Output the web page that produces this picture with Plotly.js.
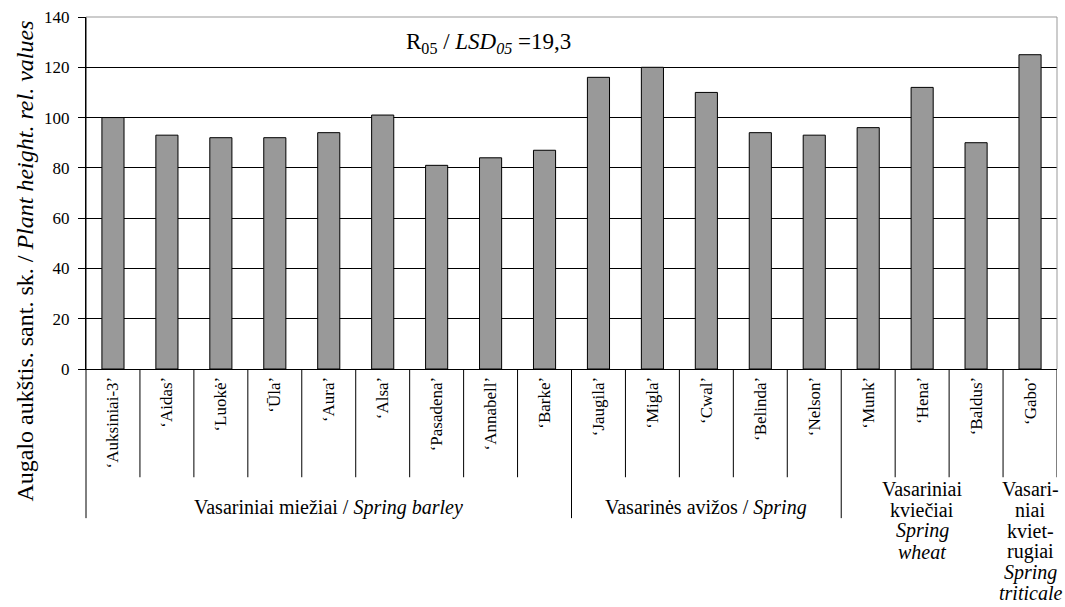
<!DOCTYPE html>
<html>
<head>
<meta charset="utf-8">
<script src="https://cdn.plot.ly/plotly-3.0.1.min.js"></script>
<style>html,body{margin:0;padding:0;background:#fff;}#chart{width:1065px;height:607px;}</style>
</head>
<body>
<div id="chart"></div>
<script>
const categories = ['\u2018Auksiniai-3\u2019','\u2018Aidas\u2019','\u2018Luok\u0117\u2019','\u2018\u016Ala\u2019','\u2018Aura\u2019','\u2018Alsa\u2019','\u2018Pasadena\u2019','\u2018Annabell\u2019','\u2018Barke\u2019','\u2018Jaugila\u2019','\u2018Migla\u2019','\u2018Cwal\u2019','\u2018Belinda\u2019','\u2018Nelson\u2019','\u2018Munk\u2019','\u2018Hena\u2019','\u2018Baldus\u2019','\u2018Gabo\u2019'];
const plantHeight = [100, 93, 92, 92, 94, 101, 81, 84, 87, 116, 120, 110, 94, 93, 96, 112, 90, 125];
const yTickVals = [0, 20, 40, 60, 80, 100, 120, 140];
const groupLabels = [
  'Vasariniai mie\u017Eiai / <i>Spring barley</i>',
  'Vasarin\u0117s avi\u017Eos / <i>Spring</i>',
  'Vasariniai<br>kvie\u010Diai<br><i>Spring</i><br><i>wheat</i>',
  'Vasari-<br>niai<br>kviet-<br>rugiai<br><i>Spring</i><br><i>triticale</i>'
];
const groupFirst = [0, 9, 14, 17];
const groupLast = [8, 13, 16, 17];
const lsdText = 'R<sub>05</sub> / <i>LSD<sub>05</sub></i> =19,3';
const yTitle = 'Augalo auk\u0161tis. sant. sk. / <i>Plant height. rel. values</i>';

const FONT = 'Liberation Serif, Times New Roman, serif';
const PLOT_H = 352.5;
const shortBottom = -0.3075, longBottom = -0.4237;

const shapes = [];
for (let i = 1; i <= categories.length; i++) {
  const x = i - 0.5;
  const isLong = groupFirst.slice(0, 3).includes(i);
  shapes.push({type:'line', xref:'x', yref:'paper', x0:x, x1:x, y0:0, y1: isLong ? longBottom : shortBottom,
    line:{color:'#000', width:1}});
}
shapes.push({type:'line', xref:'paper', yref:'paper', x0:0, x1:0, y0:1, y1:longBottom, line:{color:'#000', width:1}});
shapes.push({type:'line', xref:'paper', yref:'paper', x0:0, x1:1, y0:1, y1:1, line:{color:'#999', width:1}});
shapes.push({type:'line', xref:'paper', yref:'paper', x0:1, x1:1, y0:0, y1:1, line:{color:'#999', width:1}});

const annotations = [
  {text: lsdText, xref:'paper', yref:'paper', x:0.415, y:0.925, xanchor:'center', yanchor:'middle', showarrow:false,
   font:{family:FONT, size:23, color:'#000'}},
  {text: yTitle, xref:'paper', yref:'paper', x:-0.063, y:0.3075, xanchor:'center', yanchor:'middle', textangle:-90, showarrow:false,
   font:{family:FONT, size:24, color:'#000'}}
];
groupLabels.forEach((t, g) => {
  const cx = (groupFirst[g] + groupLast[g]) / 2;
  const lines = t.split('<br>');
  const firstY = lines.length > 1 ? 490 : 508;
  lines.forEach((ln, k) => {
    const ypx = firstY + k * 20.8;
    annotations.push({text:ln, xref:'x', yref:'paper', x:cx, y:(369.5 - ypx) / PLOT_H,
      xanchor:'center', yanchor:'middle', align:'center', showarrow:false, borderpad:0,
      font:{family:FONT, size:20, color:'#000'}});
  });
});

const data = [{
  type:'bar', x: categories, y: plantHeight,
  marker:{color:'#999999', line:{color:'#000', width:1}},
  width: 0.41, hoverinfo:'none'
}];

const layout = {
  width:1065, height:607,
  margin:{l:86, r:8, t:17, b:237.5, pad:0},
  paper_bgcolor:'#fff', plot_bgcolor:'#fff',
  showlegend:false,
  font:{family:FONT, color:'#000'},
  xaxis:{type:'category', range:[-0.5, categories.length - 0.5], showline:true, linecolor:'#000', linewidth:1,
    ticks:'', tickangle:-90, tickfont:{family:FONT, size:17, color:'#000'}, showgrid:false, zeroline:false, fixedrange:true},
  yaxis:{range:[0,140], tickvals:yTickVals, ticks:'outside', ticklen:7, tickcolor:'#000', showline:true, linecolor:'#000',
    ticklabelstandoff:5,
    showgrid:true, gridcolor:'#000', gridwidth:1, zeroline:false, tickfont:{family:FONT, size:17, color:'#000'}, fixedrange:true},
  shapes: shapes,
  annotations: annotations
};

Plotly.newPlot('chart', data, layout, {displayModeBar:false, staticPlot:true});
</script>
</body>
</html>
